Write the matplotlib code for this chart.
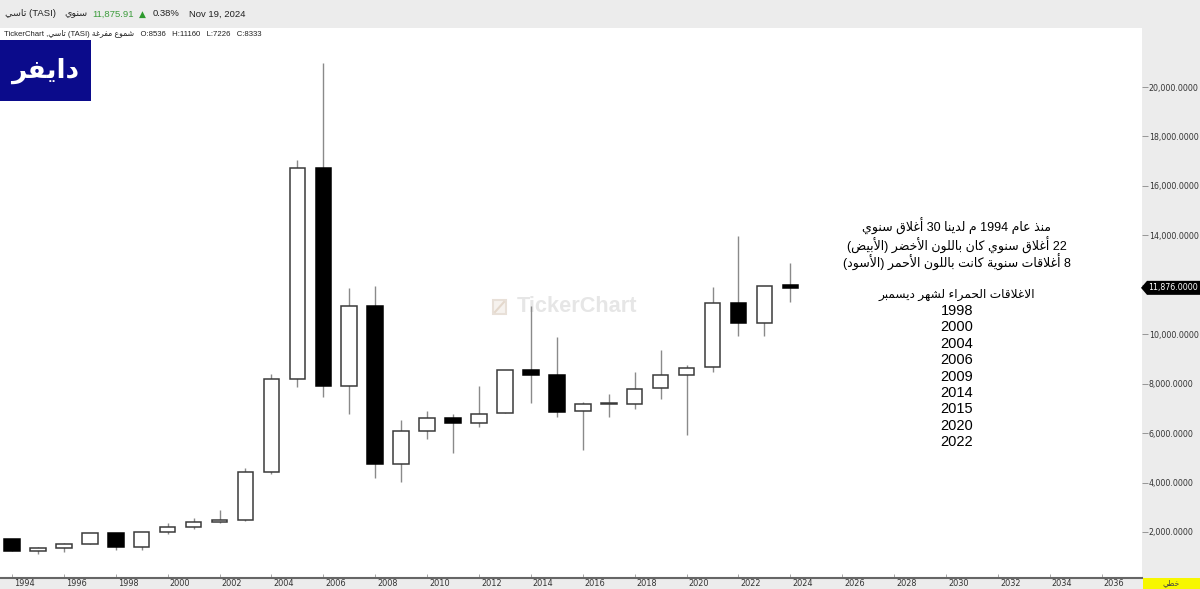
import re
import matplotlib
matplotlib.use("Agg")
import matplotlib.pyplot as plt
import matplotlib.patches as patches
import matplotlib.transforms as mtransforms

# yearly candles of TASI
years = list(range(1994, 2025))
opens = [1720, 1230, 1340, 1530, 1950, 1410, 1990, 2220, 2390, 2480,
         4430, 8200, 16720, 7910, 11150, 4750, 6090, 6600, 6400, 6800,
         8536, 8333, 6880, 7190, 7180, 7810, 8360, 8690, 11280, 10470, 11990]
highs = [1720, 1410, 1570, 1960, 1960, 2000, 2350, 2580, 2890, 4590,
         8390, 17050, 20980, 11870, 11960, 6530, 6890, 6770, 7920, 8540,
         11160, 9875, 7250, 7570, 8460, 9360, 8760, 11920, 13970, 11960, 12880]
lows = [1220, 1100, 1200, 1520, 1270, 1270, 1920, 2110, 2360, 2450,
        4350, 7850, 7450, 6770, 4180, 4020, 5750, 5180, 6260, 6800,
        7226, 6660, 5320, 6660, 6980, 7370, 5920, 8460, 9930, 9930, 11290]
closes = [1230, 1340, 1530, 1950, 1410, 1990, 2220, 2390, 2480, 4430,
          8180, 16720, 7910, 11150, 4750, 6090, 6600, 6400, 6770, 8540,
          8333, 6850, 7170, 7220, 7800, 8360, 8650, 11280, 10470, 11950, 11876]

x_ticks = list(range(1994, 2037, 2))
y_ticks = list(range(2000, 20001, 2000))
last_price = 11876

note_lines = ["منذ عام 1994 م لدينا 30 أغلاق سنوي",
              "22 أغلاق سنوي كان باللون الأخضر (الأبيض)",
              "8 أغلاقات سنوية كانت باللون الأحمر (الأسود)"]
red_title = "الاغلاقات الحمراء لشهر ديسمبر"
red_years = ["1998", "2000", "2004", "2006", "2009", "2014", "2015", "2020", "2022"]

# --- arabic shaping (matplotlib does no joining / bidi by itself) ---
_dual = {0x0626: 0xFE89, 0x0628: 0xFE8F, 0x062A: 0xFE95, 0x062B: 0xFE99, 0x062C: 0xFE9D,
         0x062D: 0xFEA1, 0x062E: 0xFEA5, 0x0633: 0xFEB1, 0x0634: 0xFEB5, 0x0635: 0xFEB9,
         0x0636: 0xFEBD, 0x0637: 0xFEC1, 0x0638: 0xFEC5, 0x0639: 0xFEC9, 0x063A: 0xFECD,
         0x0641: 0xFED1, 0x0642: 0xFED5, 0x0643: 0xFED9, 0x0644: 0xFEDD, 0x0645: 0xFEE1,
         0x0646: 0xFEE5, 0x0647: 0xFEE9, 0x064A: 0xFEF1}
_right = {0x0622: 0xFE81, 0x0623: 0xFE83, 0x0624: 0xFE85, 0x0625: 0xFE87, 0x0627: 0xFE8D,
          0x0629: 0xFE93, 0x062F: 0xFEA9, 0x0630: 0xFEAB, 0x0631: 0xFEAD, 0x0632: 0xFEAF,
          0x0648: 0xFEED, 0x0649: 0xFEEF}
_lamalef = {0x0622: 0xFEF5, 0x0623: 0xFEF7, 0x0625: 0xFEF9, 0x0627: 0xFEFB}


def shape(s):
    out = []
    n = len(s)
    i = 0
    prev = False
    while i < n:
        c = ord(s[i])
        nxt = ord(s[i + 1]) if i + 1 < n else None
        if c == 0x0644 and nxt in _lamalef:
            out.append(chr(_lamalef[nxt] + (1 if prev else 0)))
            prev = False
            i += 2
            continue
        if c in _dual:
            jn = nxt is not None and (nxt in _dual or nxt in _right)
            b = _dual[c]
            if prev and jn:
                out.append(chr(b + 3))
            elif prev:
                out.append(chr(b + 1))
            elif jn:
                out.append(chr(b + 2))
            else:
                out.append(chr(b))
            prev = jn
        elif c in _right:
            out.append(chr(_right[c] + (1 if prev else 0)))
            prev = False
        else:
            out.append(s[i])
            prev = False
        i += 1
    return "".join(out)


def ar(s):
    toks = re.findall(r"[0-9A-Za-z.,:%]+|.", shape(s))
    mirror = {"(": ")", ")": "("}
    return "".join(mirror.get(t, t) for t in reversed(toks))


W, H = 1200, 589


def fx(x):
    return x / W


def fy(y):
    return 1 - y / H


FONT = ["Liberation Sans", "DejaVu Sans"]
plt.rcParams["font.family"] = FONT

fig = plt.figure(figsize=(12, 5.89), dpi=100, facecolor="#ececec")
ax = fig.add_axes([0, fy(578), fx(1142), fy(28) - fy(578)])
ax.set_facecolor("white")

# wicks then bodies
ax.vlines(years, lows, highs, color="#8a8a8a", linewidth=1, zorder=2)
bottoms = [min(o, c) for o, c in zip(opens, closes)]
heights = [abs(c - o) for o, c in zip(opens, closes)]
faces = ["white" if c >= o else "black" for o, c in zip(opens, closes)]
edges = ["#3a3a3a" if c >= o else "black" for o, c in zip(opens, closes)]
ax.bar(years, heights, bottom=bottoms, width=0.6, color=faces,
       edgecolor=edges, linewidth=1.1, zorder=3)

ax.set_xlim(1993.54, 2037.55)
ax.set_ylim(139, 22387)

ax.yaxis.tick_right()
ax.set_yticks(y_ticks)
ax.set_yticklabels([f"{v:,.4f}" for v in y_ticks], family="DejaVu Sans")
ax.tick_params(axis="y", direction="out", length=4, width=0.6, color="#888",
               labelsize=5.7, labelcolor="#333", pad=1)
ax.set_xticks(x_ticks)
ax.set_xticklabels([str(v) for v in x_ticks], family="DejaVu Sans")
ax.tick_params(axis="x", direction="in", length=3, width=0.6, color="#999",
               labelsize=5.9, labelcolor="#333", pad=1)
off = mtransforms.ScaledTranslation(2 / 100, 0, fig.dpi_scale_trans)
for lab in ax.get_xticklabels():
    lab.set_horizontalalignment("left")
    lab.set_transform(lab.get_transform() + off)
for sp in ["top", "left", "right"]:
    ax.spines[sp].set_visible(False)
ax.spines["bottom"].set_color("#666")
ax.spines["bottom"].set_linewidth(1.5)

# watermark
ax.text(fx(577), fy(307), "TickerChart", transform=fig.transFigure, ha="center",
        va="center", fontsize=15.7, fontweight="bold", color="#e6e6e6", zorder=1)
fig.add_artist(patches.Rectangle((fx(493), fy(314)), fx(13), 14 / H,
                                 facecolor="#f6f2ee", edgecolor="#e8e0d8", linewidth=1.5))
fig.add_artist(plt.Line2D([fx(495), fx(504)], [fy(312), fy(302)], color="#e4d8cc",
                          linewidth=1.5))

# last price tag
bt = mtransforms.blended_transform_factory(fig.transFigure, ax.transData)
hp = 7 * 40.45
tag = patches.Polygon([(fx(1141), last_price), (fx(1147), last_price + hp),
                       (fx(1200), last_price + hp), (fx(1200), last_price - hp),
                       (fx(1147), last_price - hp)], closed=True, transform=bt,
                      facecolor="black", edgecolor="none", clip_on=False)
fig.add_artist(tag)
fig.text(fx(1173), last_price, f"{last_price:,.4f}", transform=bt, ha="center",
         va="center", fontsize=5.7, color="white", family="DejaVu Sans")

# linear scale box
fig.add_artist(patches.Rectangle((fx(1143), 0), fx(57), 11 / H, facecolor="#f7f700",
                                 edgecolor="none"))
fig.text(fx(1171), fy(583.5), ar("خطي"), ha="center", va="center", fontsize=5.5,
         color="#444")

# header
fig.text(fx(5), fy(14), ar("تاسي") + " (TASI)", ha="left", va="center", fontsize=6.8,
         color="#222")
fig.text(fx(64), fy(14), ar("سنوي"), ha="left", va="center", fontsize=6.8, color="#222")
fig.text(fx(92), fy(14), "11,875.91", ha="left", va="center", fontsize=6.8,
         color="#3c9c3c")
fig.text(fx(142), fy(14), "▲", ha="center", va="center", fontsize=6.5,
         color="#2e9a2e", family="DejaVu Sans")
fig.text(fx(153), fy(14), "0.38%", ha="left", va="center", fontsize=6.8, color="#222")
fig.text(fx(189), fy(14), "Nov 19, 2024", ha="left", va="center", fontsize=6.8,
         color="#222")
fig.text(fx(4), fy(33.5), "TickerChart ," + ar("تاسي") + " (TASI) " + ar("شموع مفرغة")
         + "   O:8536   H:11160   L:7226   C:8333", ha="left", va="center",
         fontsize=5.6, color="#222")

# logo
fig.add_artist(patches.Rectangle((0, fy(101)), fx(91), 61 / H, facecolor="#0b0b8b",
                                 edgecolor="none"))
fig.text(fx(45), fy(71), ar("دايفر"), ha="center", va="center", fontsize=19,
         fontweight="bold", color="white", family="DejaVu Sans")

# notes
cx = fx(957)
for yy, line in zip([226, 245, 262], note_lines):
    fig.text(cx, fy(yy), ar(line), ha="center", va="center", fontsize=9, color="black")
fig.text(cx, fy(295), ar(red_title), ha="center", va="center", fontsize=8.7,
         color="black")
for k, yr in enumerate(red_years):
    fig.text(cx, fy(311 + k * 16.4), yr, ha="center", va="center", fontsize=10.5,
             color="black")

fig.savefig("out.png", dpi=100, facecolor=fig.get_facecolor())
